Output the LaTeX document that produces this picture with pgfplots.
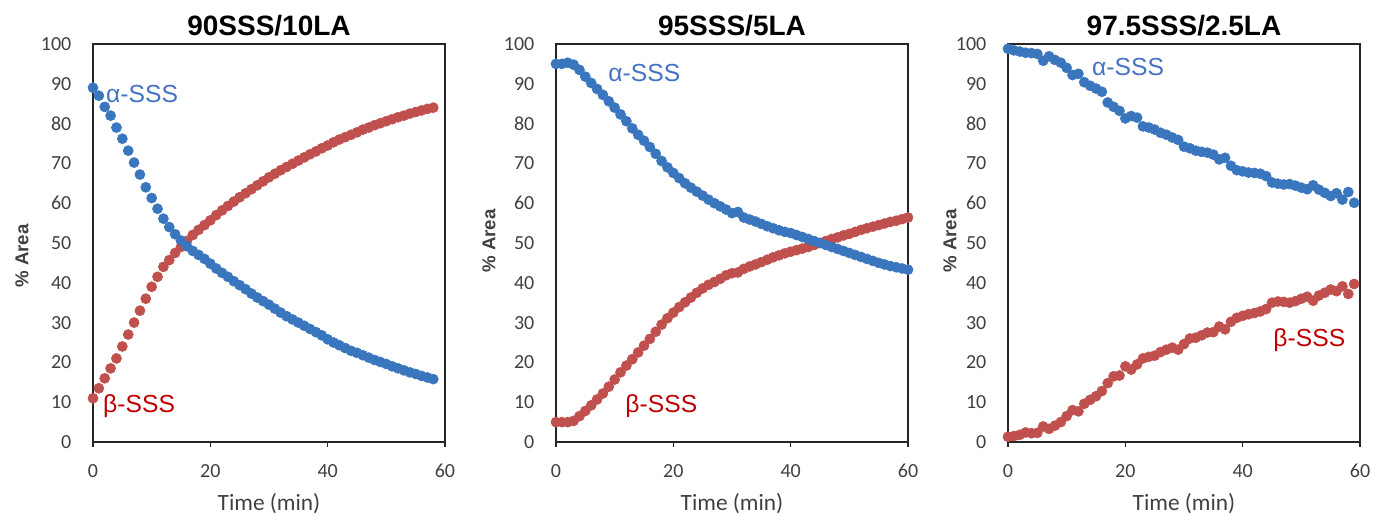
\documentclass[border=0pt]{standalone}
\usepackage{pgfplots}
\pgfplotsset{compat=1.18}
\usepackage{fontspec}
\setmainfont{Carlito}
\newfontfamily\arial{Liberation Sans}

\definecolor{ablue}{HTML}{3A76BE}
\definecolor{bred}{HTML}{C0504D}
\definecolor{atext}{HTML}{4472C4}
\definecolor{btext}{HTML}{C00000}
\definecolor{ticktext}{HTML}{404040}

% 90SSS/10LA
\pgfplotstableread{
t a b
0 89 11
1 87 13.5
2 84.2 16
3 82 18.5
4 79 21
5 76.2 24
6 73.2 27
7 70.2 30
8 67.2 33
9 64 36
10 61.3 39
11 58.6 41.5
12 56.1 44
13 54 45.7
14 52.2 47.5
15 50.6 49
16 49.2 50.5
17 48 52
18 47 53.3
19 46 54.5
20 44.8 55.7
21 43.6 57
22 42.5 58.2
23 41.5 59.3
24 40.4 60.4
25 39.4 61.5
26 38.4 62.5
27 37.3 63.5
28 36.3 64.5
29 35.4 65.5
30 34.5 66.5
31 33.5 67.4
32 32.5 68.3
33 31.6 69.1
34 30.8 69.9
35 30 70.7
36 29.2 71.5
37 28.4 72.3
38 27.6 73
39 26.8 73.8
40 25.8 74.5
41 25 75.3
42 24.3 76
43 23.6 76.6
44 22.9 77.2
45 22.4 77.8
46 21.8 78.5
47 21.2 79
48 20.6 79.6
49 20.1 80.1
50 19.6 80.6
51 19 81.1
52 18.5 81.6
53 18 82
54 17.5 82.5
55 17.1 82.9
56 16.6 83.3
57 16.2 83.7
58 15.8 84
}\tableA

% 95SSS/5LA
\pgfplotstableread{
t a b
0 95 5
1 95 5
2 95.3 5
3 94.8 5.3
4 93.5 6.5
5 91.8 7.8
6 90.2 9.2
7 88.7 10.7
8 87.2 12.2
9 85.6 13.9
10 84 15.7
11 82.3 17.5
12 80.6 19.2
13 78.8 20.8
14 77.2 22.5
15 75.7 24.2
16 74.1 25.9
17 72.4 27.7
18 70.6 29.5
19 69 31.1
20 67.6 32.5
21 66.3 33.9
22 65 35.1
23 63.9 36.3
24 62.9 37.5
25 61.9 38.6
26 60.9 39.5
27 60 40.2
28 59.2 41
29 58.4 41.9
30 57.5 42.4
31 57.8 42.6
32 56.4 43.5
33 55.9 44.1
34 55.4 44.6
35 54.8 45.2
36 54.2 45.8
37 53.7 46.4
38 53.2 46.9
39 52.8 47.4
40 52.5 47.8
41 52 48.2
42 51.5 48.6
43 51 49
44 50.5 49.5
45 50 50
46 49.5 50.5
47 49 51
48 48.5 51.4
49 48 51.9
50 47.5 52.3
51 47 52.8
52 46.5 53.3
53 46 53.7
54 45.5 54.1
55 45 54.5
56 44.6 54.9
57 44.2 55.3
58 43.9 55.6
59 43.6 56
60 43.3 56.4
}\tableB

% 97.5SSS/2.5LA
\pgfplotstableread{
t a b
0 98.8 1.3
1 98.4 1.5
2 98.1 1.8
3 97.8 2.4
4 97.7 2.2
5 97.5 2.3
6 95.8 3.9
7 96.9 3.3
8 96 4.1
9 95.3 5
10 94 6.5
11 92.2 8
12 92.5 7.7
13 90.4 9.6
14 89.5 10.6
15 88.8 11.5
16 88 12.8
17 85.3 14.8
18 84.2 16.5
19 83.2 16.7
20 81.3 19
21 81.9 18.2
22 81.5 19.5
23 79.3 21
24 79 21.4
25 78.5 21.7
26 77.7 22.6
27 77.2 23.2
28 76.5 23.7
29 75.9 23.2
30 74.2 24.6
31 73.8 26
32 73.2 26.2
33 72.9 26.8
34 72.7 27.5
35 72.2 27.6
36 71 29
37 71.4 28.3
38 69.4 30.2
39 68.3 31.2
40 68 31.7
41 67.7 32.1
42 67.6 32.4
43 67.4 32.8
44 66.8 33.4
45 65.2 35
46 64.9 35.3
47 64.7 35.2
48 64.8 35
49 64.4 35.4
50 63.9 36
51 63.5 36.5
52 64.5 35.5
53 63.4 36.8
54 62.6 37.5
55 61.8 38.3
56 62.5 37.9
57 60.9 39.1
58 62.8 37.2
59 60.1 39.7
}\tableC

\pgfplotsset{
  panel/.style={
    scale only axis, width=264pt, height=298.5pt,
    xmin=0, xmax=60, ymin=0, ymax=100,
    xtick={0,20,40,60}, ytick={0,10,...,100},
    tick align=outside, major tick length=3.75pt,
    xtick pos=bottom, ytick pos=left,
    ytick style={draw=none},
    xtick style={line width=0.9pt, color=black!85},
    axis line style={line width=0.9pt, color=black!85},
    tick label style={font=\fontsize{15}{15}\selectfont, text=ticktext},
    /pgf/number format/assume math mode=true,
    xticklabel style={anchor=center, yshift=-18pt},
    yticklabel style={anchor=east, xshift=-9pt},
    xlabel={Time (min)},
    xlabel style={font=\fontsize{17.5}{17.5}\selectfont, text=ticktext,
      at={(rel axis cs:0.5,0)}, anchor=center, yshift=-46.5pt},
    ylabel={\% Area},
    title style={font=\arial\bfseries\fontsize{21}{21}\selectfont,
      at={(rel axis cs:0.5,1)}, anchor=center, yshift=7.5pt},
    clip=false,
  },
  % the y label is turned by 90 degrees: yshift moves it left, xshift moves it up
  ylab/.style 2 args={ylabel style={font=\arial\bfseries\fontsize{14}{14}\selectfont,
      text=ticktext, at={(rel axis cs:0,0.5)}, anchor=center,
      yshift=#1, xshift=#2}},
  alpha/.style={only marks, mark=*, mark size=3.8pt, color=ablue,
    mark options={draw=ablue, fill=ablue}},
  beta/.style={only marks, mark=*, mark size=3.8pt, color=bred,
    mark options={draw=bred, fill=bred}},
}
\tikzset{
  alab/.style={anchor=base west, inner sep=0pt, text=atext,
    font=\arial\fontsize{18.5}{18.5}\selectfont},
  blab/.style={anchor=base west, inner sep=0pt, text=btext,
    font=\arial\fontsize{18.5}{18.5}\selectfont},
}

\begin{document}
\begin{tikzpicture}
\useasboundingbox (0,0) rectangle (1029.75pt,387pt);

\begin{axis}[panel, ylab={53.25pt}{-9.75pt}, title={90SSS/10LA},
  at={(69.75pt,55.5pt)}, anchor=south west]
  \addplot[beta] table[x=t, y=b] {\tableA};
  \addplot[alpha] table[x=t, y=a] {\tableA};
  \node[alab] at (axis cs:2.2,85.4) {α-SSS};
  \node[blab] at (axis cs:1.7,7.5) {β-SSS};
\end{axis}

\begin{axis}[panel, ylab={50.25pt}{1.5pt}, title={95SSS/5LA},
  at={(417pt,55.5pt)}, anchor=south west]
  \addplot[beta] table[x=t, y=b] {\tableB};
  \addplot[alpha] table[x=t, y=a] {\tableB};
  \node[alab] at (axis cs:8.9,90.5) {α-SSS};
  \node[blab] at (axis cs:11.8,7.5) {β-SSS};
\end{axis}

\begin{axis}[panel, ylab={43.5pt}{1.5pt}, title={97.5SSS/2.5LA},
  at={(756pt,55.5pt)}, anchor=south west]
  \addplot[beta] table[x=t, y=b] {\tableC};
  \addplot[alpha] table[x=t, y=a] {\tableC};
  \node[alab] at (axis cs:14.3,92) {α-SSS};
  \node[blab] at (axis cs:45.2,23.9) {β-SSS};
\end{axis}
\end{tikzpicture}
\end{document}
